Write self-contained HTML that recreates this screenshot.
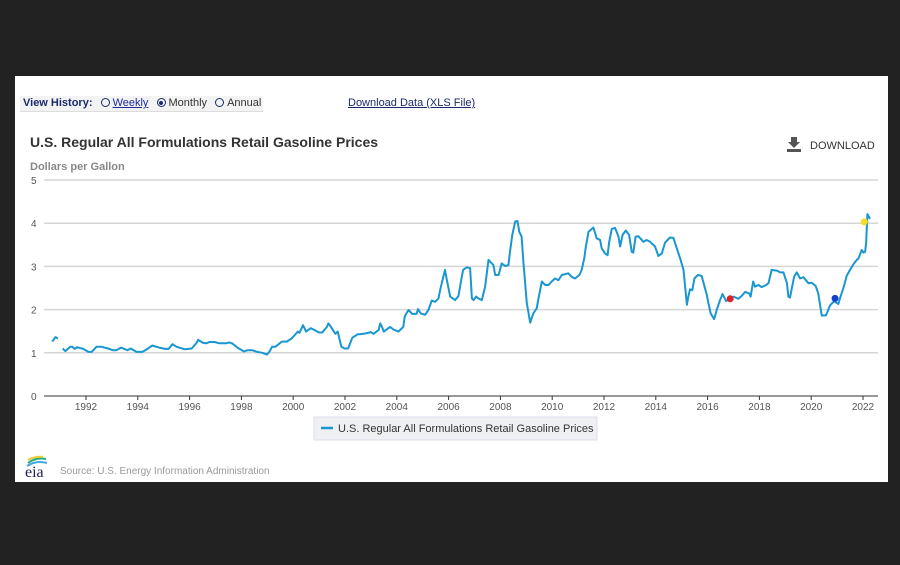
<!DOCTYPE html>
<html><head><meta charset="utf-8">
<style>
html,body{margin:0;padding:0;background:#222;width:900px;height:565px;overflow:hidden;font-family:"Liberation Sans",Arial,sans-serif}
#panel{position:absolute;left:15px;top:76px;width:873px;height:406px;background:#fff}
.hist{position:absolute;left:5px;top:20px;width:243px;height:15px;background:#f3f3f3;border-bottom:1px solid #ddd;font-size:11px;color:#333;line-height:15px;white-space:nowrap}
.hist b{color:#1a2a6c;margin-left:3px}
.rad{display:inline-block;width:7px;height:7px;border:1.5px solid #1a2a6c;border-radius:50%;vertical-align:-1px;margin:0 3px 0 5px;position:relative}
.rad.on::after{content:"";position:absolute;left:1.5px;top:1.5px;width:4px;height:4px;border-radius:50%;background:#1a2a6c}
a{color:#1a2a9c}
</style></head><body>
<div id="panel">
  <div class="hist"><b>View History:</b>
    <span class="rad"></span><a href="#">Weekly</a>
    <span class="rad on"></span>Monthly
    <span class="rad"></span>Annual</div>
  <a href="#" style="position:absolute;left:333px;top:21px;font-size:11px;color:#1a2a6c">Download Data (XLS File)</a>
</div>
<svg width="900" height="565" style="position:absolute;left:0;top:0" id="svg">
  <text x="30" y="147" font-size="14" font-weight="bold" fill="#333">U.S. Regular All Formulations Retail Gasoline Prices</text>
  <text x="30" y="170" font-size="11" font-weight="bold" fill="#888">Dollars per Gallon</text>
  <g>
    <path d="M791 137h6v5h3l-6 6-6-6h3z M787 149h14v3h-14z" fill="#555"/>
    <text x="810" y="149" font-size="11" fill="#333">DOWNLOAD</text>
  </g>
  <g id="grid"></g><g id="xt"></g>
  <path id="line" fill="none" stroke="#1a96d0" stroke-width="2" stroke-linejoin="round"/>
  <g id="marks"></g>
  <g>
    <rect x="314" y="417" width="283" height="23" fill="#eef0f2" stroke="#dde"/>
    <line x1="321" y1="428" x2="333" y2="428" stroke="#1a96d0" stroke-width="2.5"/>
    <text x="338" y="432" font-size="11" fill="#333">U.S. Regular All Formulations Retail Gasoline Prices</text>
  </g>
  <g>
    <path d="M28 463q8-6 18-4" stroke="#2a8" stroke-width="2" fill="none"/>
    <path d="M27 466q9-6 20-3" stroke="#4ad" stroke-width="2" fill="none"/>
    <path d="M28 460q7-4 15-3" stroke="#ec3" stroke-width="2" fill="none"/>
    <text x="25" y="477" font-family="Liberation Serif,serif" font-size="16" fill="#225">eia</text>
  </g>
  <text x="60" y="474" font-size="10" fill="#999">Source: U.S. Energy Information Administration</text>
</svg>
<script>
const yTicks=[0,1,2,3,4,5];
const xTickYears=[1992,1994,1996,1998,2000,2002,2004,2006,2008,2010,2012,2014,2016,2018,2020,2022];
const seg1Years=[1990.70,1990.82,1990.92];
const seg1Values=[1.26,1.36,1.33];
const years=[1991.10,1991.2,1991.39,1991.48,1991.56,1991.65,1991.9,1992.09,1992.22,1992.4,1992.6,1992.85,1993.04,1993.17,1993.35,1993.6,1993.73,1993.95,1994.18,1994.37,1994.56,1994.82,1995.06,1995.19,1995.34,1995.5,1995.82,1996.08,1996.27,1996.33,1996.52,1996.65,1996.77,1996.96,1997.15,1997.41,1997.53,1997.66,1997.87,1998.1,1998.23,1998.42,1998.61,1998.8,1998.99,1999.09,1999.18,1999.31,1999.56,1999.75,1999.94,2000.18,2000.24,2000.38,2000.5,2000.68,2000.78,2001.0,2001.12,2001.3,2001.36,2001.46,2001.63,2001.72,2001.86,2001.99,2002.12,2002.28,2002.5,2002.56,2002.81,2003.0,2003.1,2003.3,2003.36,2003.43,2003.5,2003.74,2003.87,2004.06,2004.25,2004.31,2004.45,2004.6,2004.76,2004.82,2004.93,2005.09,2005.22,2005.35,2005.48,2005.61,2005.67,2005.86,2005.93,2006.06,2006.25,2006.38,2006.5,2006.56,2006.7,2006.83,2006.9,2006.96,2007.06,2007.15,2007.28,2007.41,2007.54,2007.73,2007.8,2007.93,2008.05,2008.18,2008.31,2008.37,2008.46,2008.57,2008.66,2008.73,2008.82,2008.89,2009.02,2009.15,2009.27,2009.4,2009.47,2009.6,2009.73,2009.86,2009.98,2010.11,2010.24,2010.37,2010.62,2010.75,2010.88,2011.05,2011.14,2011.24,2011.29,2011.4,2011.59,2011.72,2011.85,2011.91,2012.04,2012.14,2012.2,2012.3,2012.43,2012.56,2012.62,2012.72,2012.84,2012.97,2013.07,2013.13,2013.22,2013.33,2013.52,2013.65,2013.78,2013.97,2014.1,2014.23,2014.36,2014.55,2014.68,2014.81,2014.94,2015.07,2015.2,2015.26,2015.32,2015.41,2015.49,2015.62,2015.77,2015.97,2016.03,2016.12,2016.25,2016.35,2016.48,2016.58,2016.71,2016.87,2017.0,2017.19,2017.32,2017.45,2017.61,2017.66,2017.76,2017.83,2017.96,2018.09,2018.26,2018.35,2018.47,2018.69,2018.8,2018.93,2019.06,2019.12,2019.18,2019.25,2019.34,2019.44,2019.57,2019.7,2019.89,2020.02,2020.17,2020.27,2020.41,2020.57,2020.73,2020.86,2020.92,2021.05,2021.11,2021.24,2021.37,2021.5,2021.63,2021.76,2021.83,2021.95,2022.02,2022.08,2022.12,2022.17,2022.27];
const values=[1.10,1.04,1.14,1.14,1.09,1.13,1.09,1.02,1.02,1.14,1.14,1.10,1.06,1.06,1.12,1.06,1.10,1.02,1.02,1.09,1.17,1.12,1.09,1.09,1.20,1.14,1.08,1.10,1.23,1.30,1.23,1.22,1.25,1.25,1.22,1.22,1.24,1.21,1.11,1.03,1.06,1.06,1.02,1.00,0.96,1.03,1.14,1.14,1.26,1.26,1.33,1.49,1.46,1.64,1.49,1.57,1.54,1.47,1.47,1.60,1.68,1.60,1.44,1.49,1.14,1.10,1.10,1.35,1.43,1.43,1.45,1.48,1.44,1.53,1.68,1.60,1.49,1.60,1.54,1.49,1.60,1.85,1.99,1.90,1.90,2.01,1.91,1.88,1.99,2.21,2.18,2.26,2.45,2.92,2.69,2.30,2.22,2.31,2.72,2.92,2.98,2.96,2.26,2.22,2.30,2.26,2.22,2.53,3.15,3.03,2.80,2.80,3.07,3.01,3.03,3.34,3.73,4.04,4.05,3.80,3.69,3.07,2.15,1.70,1.91,2.03,2.26,2.65,2.57,2.57,2.65,2.72,2.68,2.80,2.84,2.76,2.72,2.80,2.92,3.19,3.42,3.80,3.90,3.65,3.61,3.42,3.30,3.26,3.57,3.87,3.89,3.69,3.46,3.73,3.83,3.73,3.34,3.32,3.69,3.70,3.57,3.61,3.57,3.46,3.24,3.30,3.55,3.67,3.66,3.42,3.19,2.92,2.11,2.31,2.47,2.45,2.72,2.80,2.78,2.34,2.15,1.91,1.78,1.99,2.22,2.36,2.20,2.24,2.30,2.25,2.32,2.41,2.37,2.30,2.65,2.53,2.57,2.52,2.57,2.61,2.92,2.90,2.86,2.86,2.61,2.30,2.28,2.49,2.76,2.86,2.72,2.75,2.61,2.62,2.55,2.38,1.86,1.87,2.10,2.18,2.18,2.13,2.26,2.49,2.78,2.92,3.05,3.15,3.19,3.38,3.32,3.34,3.53,4.21,4.10,4.18,4.44];
const markerYears=[2016.87,2020.92,2022.05];
const markerValues=[2.25,2.26,4.03];
const markerColors=['#e02020','#1040d0','#f5e020'];
const X=t=>86+(t-1992)*25.9;
const Y=v=>396-v*43.2;
const NS='http://www.w3.org/2000/svg';
const grid=document.getElementById('grid');
yTicks.forEach(v=>{
  const l=document.createElementNS(NS,'line');
  
  
  l.setAttribute('x1',44);l.setAttribute('x2',878);l.setAttribute('y1',Y(v));l.setAttribute('y2',Y(v));
  l.setAttribute('stroke',v===0?'#333':'#d6d6d6');l.setAttribute('stroke-width',v===0?1:1.5);
  grid.appendChild(l);
  const t=document.createElementNS(NS,'text');
  
  
  t.setAttribute('x',31);t.setAttribute('y',Y(v)+4);t.setAttribute('font-size','10');t.setAttribute('fill','#555');
  t.textContent=v;grid.appendChild(t);
});
const xt=document.getElementById('xt');
xTickYears.forEach(yr=>{
  const t=document.createElementNS(NS,'text');
  
  
  t.setAttribute('x',X(yr));t.setAttribute('y',410);t.setAttribute('font-size','10');t.setAttribute('fill','#555');t.setAttribute('text-anchor','middle');
  t.textContent=yr;xt.appendChild(t);
  const k=document.createElementNS(NS,'line');
  
  
  k.setAttribute('x1',X(yr));k.setAttribute('x2',X(yr));k.setAttribute('y1',396);k.setAttribute('y2',400);k.setAttribute('stroke','#333');
  xt.appendChild(k);
});
let d='M'+seg1Years.map((t,i)=>X(t).toFixed(1)+','+Y(seg1Values[i]).toFixed(1)).join('L');
d+='M'+years.map((t,i)=>X(t).toFixed(1)+','+Y(values[i]).toFixed(1)).join('L');
document.getElementById('line').setAttribute('d',d);
const mk=document.getElementById('marks');
markerYears.forEach((t,i)=>{
  const c=document.createElementNS(NS,'circle');
  
  
  c.setAttribute('cx',X(t));c.setAttribute('cy',Y(markerValues[i]));c.setAttribute('r',3.5);c.setAttribute('fill',markerColors[i]);
  mk.appendChild(c);
});
</script>
</body></html>
